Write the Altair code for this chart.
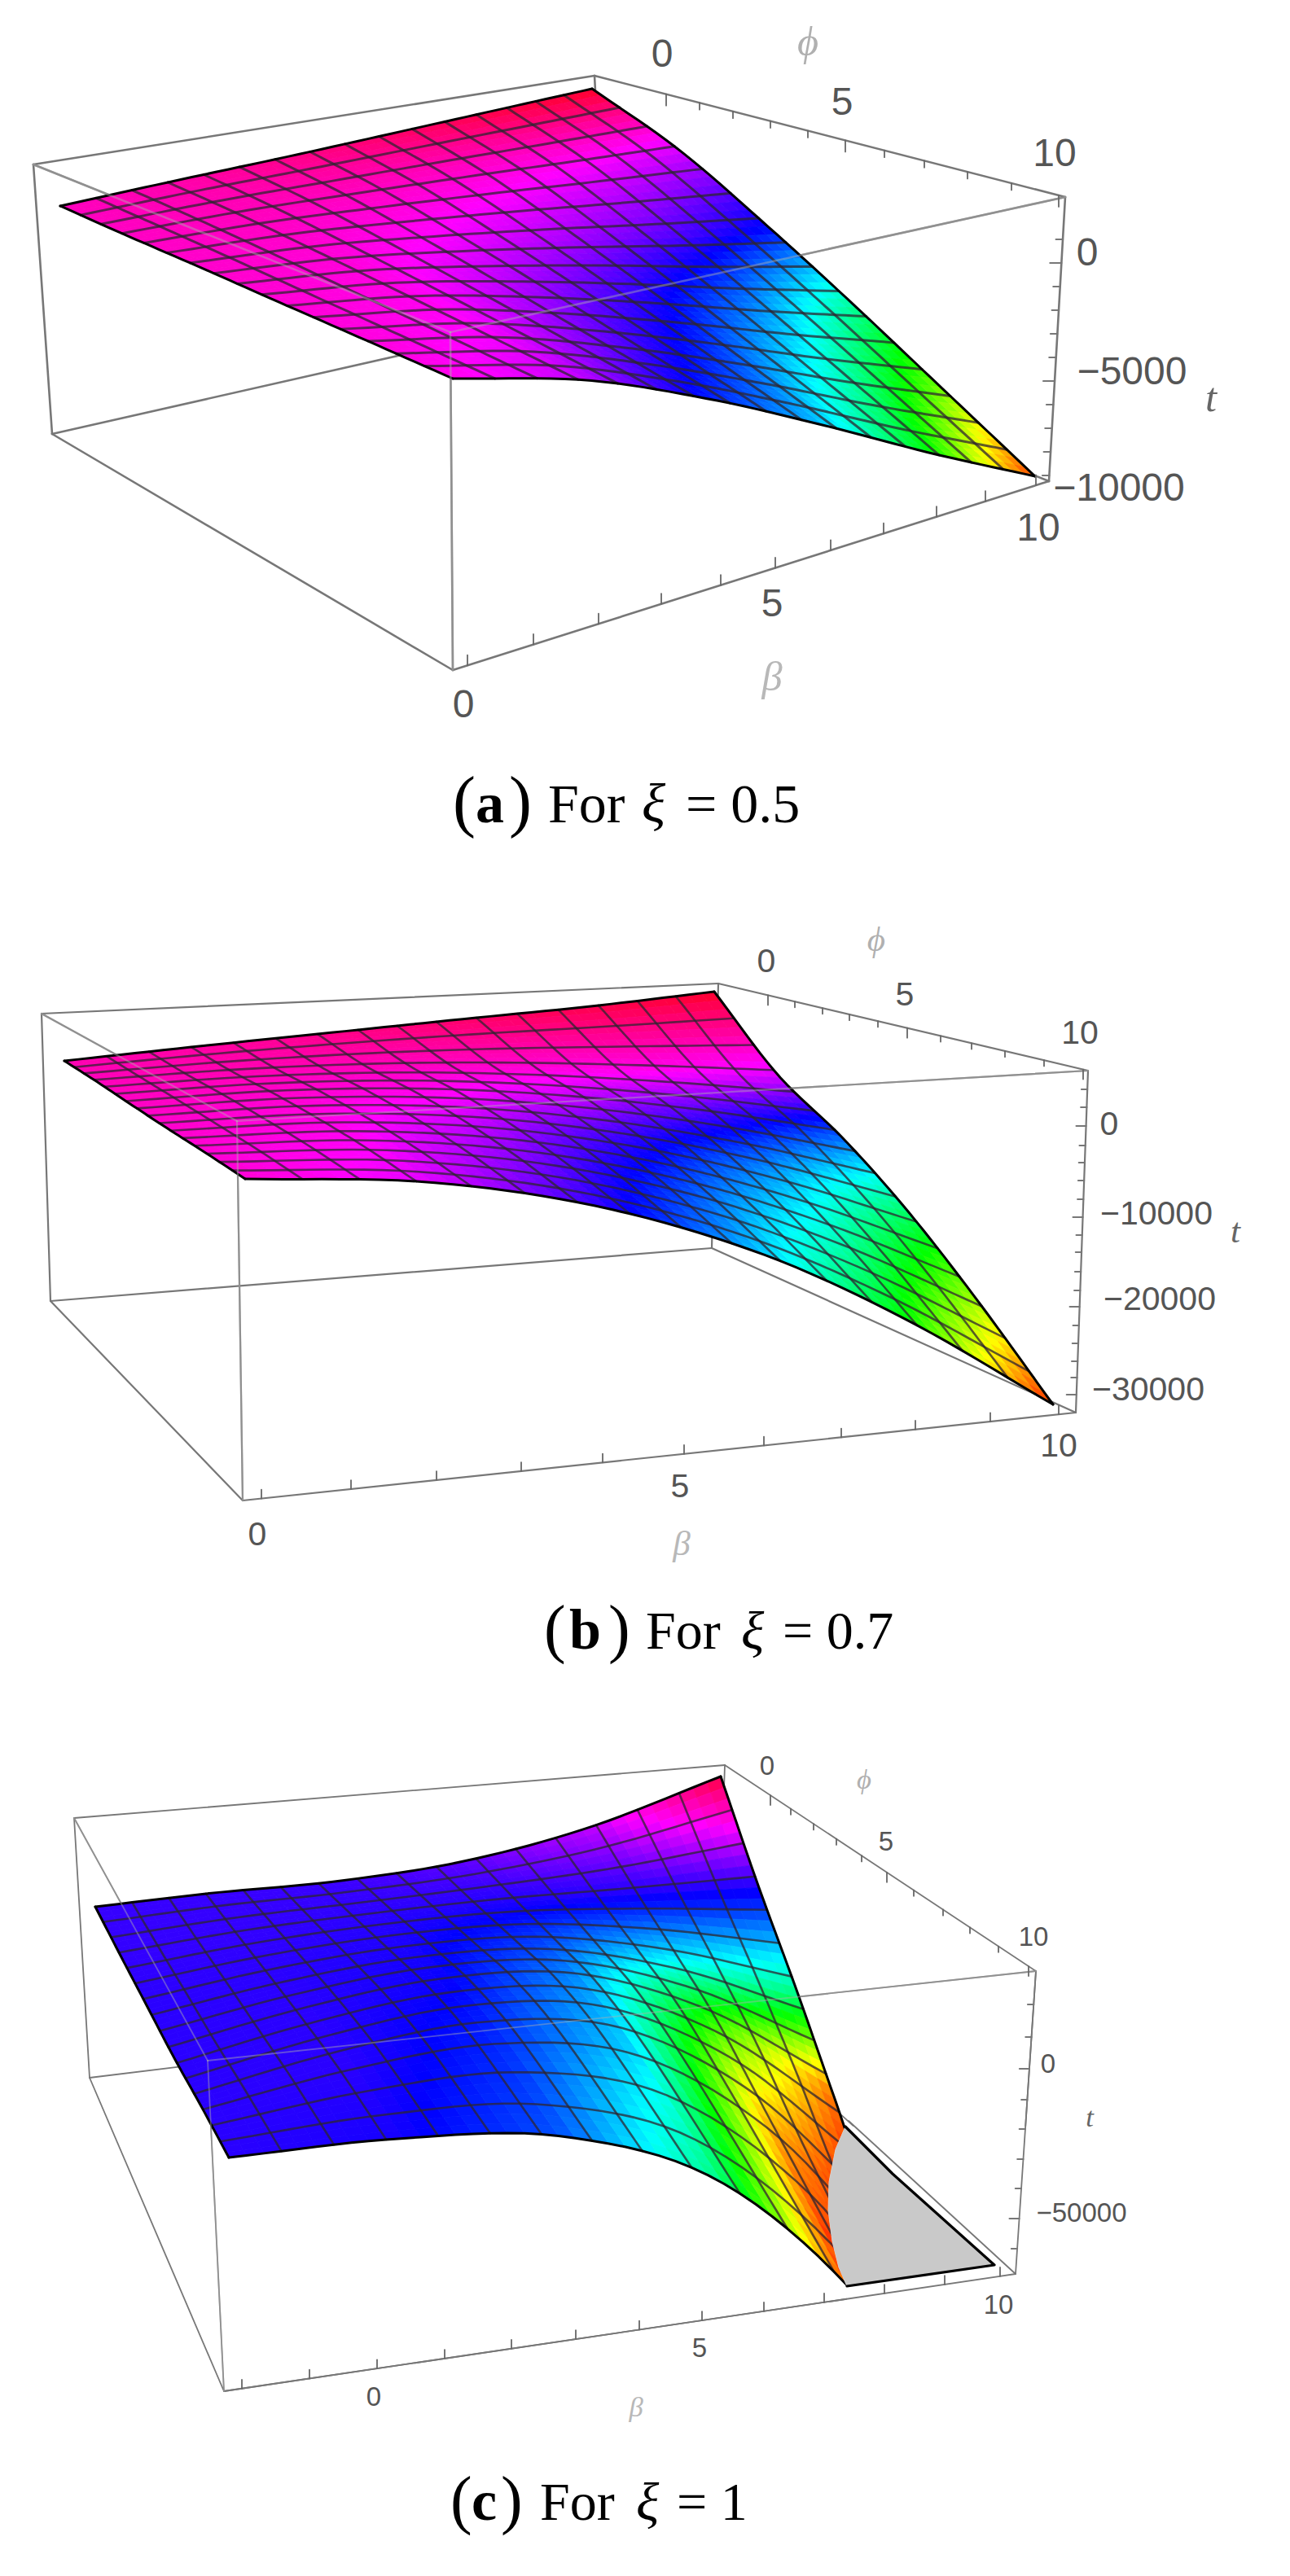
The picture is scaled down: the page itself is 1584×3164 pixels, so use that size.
import colorsys
import numpy as np
import pandas as pd
import altair as alt

# All positions are estimated from the reference picture, in its pixel coordinates.
# Surface edges and the hue table are read at control points; the mesh between those
# control points is blended from them, because only the edges can be read reliably.
NODES = [0, .2, .4, .6, .8, 1]

A_BOX = dict(TL=(41, 202), TB=(730, 93), TR=(1308, 242), TN=(553, 408),
             BL=(64, 533), BB=(745, 379), BR=(1288, 591), BN=(556, 823))
A_TOP = [(74, 253), (215, 222), (355, 192), (490, 162), (615, 134), (727, 109)]
A_NEAR = [(556, 465), (720, 467), (870, 490), (1010, 522), (1145, 557), (1271, 585)]
A_LEFT = [(74, 253), (155, 289), (245, 328), (340, 370), (445, 416), (556, 465)]
A_RIGHT = [(727, 109), (835, 185), (945, 280), (1050, 376), (1160, 480), (1271, 585)]
A_HUE = [[315, 320, 328, 336, 344, 350],
         [314, 316, 314, 308, 300, 290],
         [312, 310, 298, 282, 262, 238],
         [310, 305, 280, 250, 210, 155],
         [308, 298, 262, 222, 165, 90],
         [305, 285, 235, 195, 120, 15]]
A_PHI_TICKS = [818, 859, 900, 946, 992, 1038, 1086, 1135, 1188, 1242, 1300]
A_BETA_TICKS = [574, 655, 735, 812, 885, 952, 1020, 1085, 1150, 1210, 1272]
A_T_TICKS = [294, 323, 352, 381, 410, 439, 468, 497, 526, 555, 584]
A_LABELS = [("0", 813, 68), ("5", 1034, 127), ("10", 1295, 190), ("0", 1335, 312),
            ("\u22125000", 1390, 458), ("\u221210000", 1374, 601), ("10", 1275, 650),
            ("5", 948, 743), ("0", 569, 867)]
A_NAMES = [("\u03d5", 992, 53, "#b0b0b0"), ("\u03b2", 948, 833, "#b8b8b8"), ("t", 1487, 490, "#666666")]

B_BOX = dict(TL=(51, 1245), TB=(882, 1208), TR=(1336, 1315), TN=(291, 1377),
             BL=(62, 1598), BB=(874, 1533), BR=(1321, 1735), BN=(298, 1843))
B_TOP = [(79, 1303), (245, 1285), (410, 1268), (565, 1252), (725, 1236), (877, 1218)]
B_NEAR = [(301, 1448), (525, 1452), (735, 1482), (935, 1540), (1115, 1622), (1293, 1725)]
B_LEFT = [(79, 1303), (118, 1328), (160, 1356), (204, 1385), (251, 1415), (301, 1448)]
B_RIGHT = [(877, 1218), (955, 1320), (1035, 1398), (1115, 1488), (1200, 1597), (1293, 1725)]
B_HUE = [[318, 322, 328, 335, 342, 350],
         [316, 318, 316, 312, 305, 292],
         [314, 312, 304, 285, 255, 215],
         [312, 306, 285, 250, 205, 145],
         [310, 300, 268, 220, 165, 82],
         [310, 293, 252, 195, 120, 10]]
B_PHI_TICKS = [943, 976, 1010, 1043, 1078, 1114, 1155, 1193, 1234, 1282, 1330]
B_BETA_TICKS = [321, 431, 536, 640, 740, 840, 938, 1033, 1124, 1216, 1300]
B_T_TICKS = [1338, 1360, 1383, 1407, 1428, 1450, 1473, 1495, 1517, 1538, 1562, 1585, 1605,
             1628, 1650, 1672, 1692, 1713]
B_LABELS = [("0", 941, 1182), ("5", 1111, 1223), ("10", 1326, 1270), ("0", 1362, 1382),
            ("\u221210000", 1420, 1492), ("\u221220000", 1424, 1597), ("\u221230000", 1410, 1708),
            ("10", 1300, 1777), ("5", 835, 1827), ("0", 316, 1886)]
B_NAMES = [("\u03d5", 1076, 1155, "#b0b0b0"), ("\u03b2", 837, 1897, "#b8b8b8"), ("t", 1517, 1513, "#666666")]

C_BOX = dict(TL=(91, 2233), TB=(890, 2168), TR=(1272, 2421), TN=(255, 2531),
             BL=(110, 2552), BB=(880, 2458), BR=(1247, 2793), BN=(275, 2937))
C_TOP = [(117, 2342), (262, 2325), (410, 2311), (565, 2287), (722, 2245), (885, 2182)]
# The last nodes run on below the box floor; the floor clips them off (see C_GREY / C_MASK).
C_NEAR = [(281, 2650), (487, 2627), (690, 2624), (885, 2680), (1068, 2838), (1230, 3080)]
C_LEFT = [(117, 2342), (148, 2402), (180, 2463), (213, 2526), (247, 2587), (281, 2650)]
C_RIGHT = [(885, 2182), (930, 2313), (978, 2444), (1024, 2575), (1090, 2760), (1230, 3080)]
C_HUE = [[253, 253, 254, 262, 285, 345],
         [252, 252, 250, 248, 248, 250],
         [250, 250, 246, 225, 185, 155],
         [250, 250, 242, 205, 110, 25],
         [250, 250, 232, 190, 45, -5],
         [250, 245, 220, 150, -5, -5]]
C_PHI_TICKS = [946, 971, 999, 1027, 1058, 1089, 1122, 1158, 1191, 1226, 1263]
C_BETA_TICKS = [297, 380, 463, 546, 628, 707, 785, 862, 938, 1012, 1086, 1160, 1228]
C_T_TICKS = [2462, 2502, 2541, 2579, 2615, 2652, 2688, 2725, 2762]
C_LABELS = [("0", 942, 2170), ("5", 1088, 2263), ("10", 1269, 2380), ("0", 1287, 2536),
            ("\u221250000", 1328, 2719), ("10", 1226, 2832), ("5", 859, 2885), ("0", 459, 2945)]
C_NAMES = [("\u03d5", 1061, 2187, "#b0b0b0"), ("\u03b2", 781, 2958, "#b8b8b8"), ("t", 1338, 2602, "#666666")]
C_CLIP = [(1038, 2612), (1026, 2640), (1018, 2680), (1017, 2715), (1022, 2753), (1030, 2785), (1040, 2808)]
C_GREY = C_CLIP + [(1221, 2782), (1096, 2670)]
C_MASK = C_CLIP + [(1040, 3150), (1500, 3150), (1500, 2612)]

# x of left edge, text, style, baseline y, font size
CAPTIONS = [
    (556, "(", "normal", "normal", 1012, 84), (584, "a", "bold", "normal", 1010, 70),
    (625, ")", "normal", "normal", 1012, 84), (673, "For", "normal", "normal", 1010, 68),
    (788, "\u03be", "normal", "italic", 1010, 68), (842, "= 0.5", "normal", "normal", 1010, 68),
    (668, "(", "normal", "normal", 2027, 80), (699, "b", "bold", "normal", 2025, 70),
    (747, ")", "normal", "normal", 2027, 80), (793, "For", "normal", "normal", 2025, 66),
    (910, "\u03be", "normal", "italic", 2025, 66), (961, "= 0.7", "normal", "normal", 2025, 66),
    (553, "(", "normal", "normal", 3097, 80), (579, "c", "bold", "normal", 3095, 70),
    (615, ")", "normal", "normal", 3097, 80), (663, "For", "normal", "normal", 3095, 66),
    (781, "\u03be", "normal", "italic", 3095, 66), (831, "= 1", "normal", "normal", 3095, 66),
]

PANELS = [
    dict(box=A_BOX, top=A_TOP, near=A_NEAR, left=A_LEFT, right=A_RIGHT, hue=A_HUE, phi=A_PHI_TICKS,
         beta=A_BETA_TICKS, tt=A_T_TICKS, labels=A_LABELS, names=A_NAMES, fs=48, box_w=2.6, mesh_w=3.0,
         major=[0, 5, 10], tick=14, tmajor=[1, 6]),
    dict(box=B_BOX, top=B_TOP, near=B_NEAR, left=B_LEFT, right=B_RIGHT, hue=B_HUE, phi=B_PHI_TICKS,
         beta=B_BETA_TICKS, tt=B_T_TICKS, labels=B_LABELS, names=B_NAMES, fs=41, box_w=2.2, mesh_w=2.6,
         major=[0, 5, 10], tick=12, tmajor=[2, 7, 12, 17]),
    dict(box=C_BOX, top=C_TOP, near=C_NEAR, left=C_LEFT, right=C_RIGHT, hue=C_HUE, phi=C_PHI_TICKS,
         beta=C_BETA_TICKS, tt=C_T_TICKS, labels=C_LABELS, names=C_NAMES, fs=33, box_w=1.8, mesh_w=2.6,
         major=[0, 5, 10], tick=12, tmajor=[2, 7]),
]
CELLS = 16
SUB = 3


def edge(points, s):
    """Cubic Hermite curve through the read control points."""
    pts = np.array(points, float)
    nodes = np.array(NODES, float)
    tang = np.gradient(pts, nodes, axis=0)
    i = min(np.searchsorted(nodes, s, side="right") - 1, len(nodes) - 2)
    h = nodes[i + 1] - nodes[i]
    t = (s - nodes[i]) / h
    return ((2 * t**3 - 3 * t**2 + 1) * pts[i] + (t**3 - 2 * t**2 + t) * h * tang[i]
            + (-2 * t**3 + 3 * t**2) * pts[i + 1] + (t**3 - t**2) * h * tang[i + 1])


def patch(p, u, v):
    c0, c1 = edge(p["top"], u), edge(p["near"], u)
    d0, d1 = edge(p["left"], v), edge(p["right"], v)
    p00, p10 = np.array(p["top"][0], float), np.array(p["top"][-1], float)
    p01, p11 = np.array(p["near"][0], float), np.array(p["near"][-1], float)
    bl = (1 - u) * (1 - v) * p00 + u * (1 - v) * p10 + (1 - u) * v * p01 + u * v * p11
    return (1 - v) * c0 + v * c1 + (1 - u) * d0 + u * d1 - bl


def hue_at(p, u, v):
    t = np.array(p["hue"], float)
    row = np.array([np.interp(u, NODES, t[i]) for i in range(6)])
    return float(np.interp(v, NODES, row))


def rgb(h):
    r, g, b = colorsys.hsv_to_rgb((h % 360) / 360, 1, 1)
    return "#%02x%02x%02x" % (int(r * 255), int(g * 255), int(b * 255))


def polygon(points, **props):
    ring = [[float(a), float(b)] for a, b in points]
    ring.append(ring[0])
    return dict(type="Feature", geometry=dict(type="Polygon", coordinates=[ring]), properties=props)


features, rows_back, rows_mesh, rows_edge, rows_front, rows_tick, rows_label, rows_name = [], [], [], [], [], [], [], []
lid = 0


def add(rows, pts, c, w, op=1.0):
    global lid
    lid += 1
    for i, (x, y) in enumerate(pts):
        rows.append(dict(id=lid, o=i, x=float(x), y=float(y), c=c, w=w, op=op))


for p in PANELS:
    b = p["box"]
    for a, z in [("TL", "TB"), ("TB", "TR"), ("TL", "BL"), ("BL", "BB"), ("BB", "BR"), ("TB", "BB"),
                 ("TL", "TN"), ("TN", "TR"), ("TN", "BN"), ("BL", "BN"), ("BN", "BR"), ("TR", "BR")]:
        add(rows_back, [b[a], b[z]], "#777777", p["box_w"])
    for a, z in [("TL", "TN"), ("TN", "TR"), ("TN", "BN")]:
        add(rows_front, [b[a], b[z]], "#b0b0b0", p["box_w"], 0.45)

    n = CELLS * SUB
    for i in range(n):
        for j in range(n):
            u0, u1, v0, v1 = i / n, (i + 1) / n, j / n, (j + 1) / n
            q = [patch(p, u0, v0), patch(p, u1, v0), patch(p, u1, v1), patch(p, u0, v1)]
            features.append(polygon(q, c=rgb(hue_at(p, (u0 + u1) / 2, (v0 + v1) / 2))))
    fine = np.linspace(0, 1, 49)
    for k in range(1, CELLS):
        s = k / CELLS
        add(rows_mesh, [patch(p, s, t) for t in fine], "#2e2430", p["mesh_w"], 0.75)
        add(rows_mesh, [patch(p, t, s) for t in fine], "#2e2430", p["mesh_w"], 0.75)
    add(rows_edge, [patch(p, t, 0) for t in fine], "#000000", 3)
    add(rows_edge, [patch(p, t, 1) for t in fine], "#000000", 3)
    add(rows_edge, [patch(p, 0, t) for t in fine], "#000000", 3)
    add(rows_edge, [patch(p, 1, t) for t in fine], "#000000", 3)

    (x0, y0), (x1, y1) = b["TB"], b["TR"]
    for k, x in enumerate(p["phi"]):
        y = y0 + (x - x0) * (y1 - y0) / (x1 - x0)
        add(rows_tick, [(x, y), (x, y + (p["tick"] if k in p["major"] else p["tick"] * 0.6))], "#666666", 1.8)
    (x0, y0), (x1, y1) = b["BN"], b["BR"]
    for k, x in enumerate(p["beta"]):
        y = y0 + (x - x0) * (y1 - y0) / (x1 - x0)
        add(rows_tick, [(x, y), (x, y - p["tick"] * 0.9)], "#666666", 1.8)
    (x0, y0), (x1, y1) = b["TR"], b["BR"]
    for k, y in enumerate(p["tt"]):
        x = x0 + (y - y0) * (x1 - x0) / (y1 - y0)
        add(rows_tick, [(x, y), (x - (p["tick"] if k in p["tmajor"] else p["tick"] * 0.6), y)], "#777777", 2.2)

    for text, x, y in p["labels"]:
        rows_label.append(dict(x=x, y=y, text=text, fs=p["fs"]))
    for text, x, y, c in p["names"]:
        rows_name.append(dict(x=x, y=y, text=text, fs=p["fs"] * 1.05, c=c))

X = alt.X("x:Q", axis=None, scale=alt.Scale(domain=[8, 1576], nice=False, zero=False))
Y = alt.Y("y:Q", axis=None, scale=alt.Scale(domain=[3156, 8], nice=False, zero=False))


def lines(rows):
    return alt.Chart(pd.DataFrame(rows)).mark_line(strokeCap="round", strokeJoin="round").encode(
        x=X, y=Y, detail="id:N", order="o:Q",
        color=alt.Color("c:N", scale=None),
        strokeWidth=alt.StrokeWidth("w:Q", scale=None),
        opacity=alt.Opacity("op:Q", scale=None))


PROJ = dict(type="identity", scale=1, translate=[-8, -8])
mask = alt.Chart(alt.Data(values=[polygon(C_MASK, c="#ffffff")])).mark_geoshape(
    fill="#ffffff", stroke="#ffffff", strokeWidth=0.5).project(**PROJ)
grey = alt.Chart(alt.Data(values=[polygon(C_GREY, c="#c9c9c9")])).mark_geoshape(
    fill="#c9c9c9", stroke="#c9c9c9", strokeWidth=0.5).project(**PROJ)
surface = alt.Chart(alt.Data(values=features)).mark_geoshape(strokeWidth=0.8).encode(
    fill=alt.Fill("properties.c:N", scale=None),
    stroke=alt.Stroke("properties.c:N", scale=None)).project(**PROJ)

rows_over_mask = []
add(rows_over_mask, [C_BOX["TR"], C_BOX["BR"]], "#777777", 1.8)
add(rows_over_mask, [C_BOX["BN"], C_BOX["BR"]], "#777777", 1.8)
add(rows_over_mask, [(1042, 2605), C_BOX["BR"]], "#777777", 1.8)
add(rows_over_mask, [C_CLIP[0], C_GREY[-1], C_GREY[-2], C_CLIP[-1]], "#000000", 3.2)

tick_text = alt.Chart(pd.DataFrame(rows_label)).mark_text(
    font="Liberation Sans", color="#555555", align="center", baseline="middle").encode(
    x=X, y=Y, text="text:N", size=alt.Size("fs:Q", scale=None))
name_text = alt.Chart(pd.DataFrame(rows_name)).mark_text(
    font="Liberation Serif", fontStyle="italic", align="center", baseline="middle").encode(
    x=X, y=Y, text="text:N", size=alt.Size("fs:Q", scale=None), color=alt.Color("c:N", scale=None))
cap_df = pd.DataFrame(CAPTIONS, columns=["x", "text", "w", "st", "y", "fs"])
caps = [alt.Chart(cap_df[(cap_df.w == w) & (cap_df.st == st)]).mark_text(
    font="Liberation Serif", color="#000000", align="left", baseline="alphabetic",
    fontWeight=w, fontStyle=st).encode(x=X, y=Y, text="text:N", size=alt.Size("fs:Q", scale=None))
    for w, st in [("normal", "normal"), ("bold", "normal"), ("normal", "italic")]]

chart = alt.layer(
    lines(rows_back), surface, lines(rows_mesh), lines(rows_edge), mask, grey, lines(rows_over_mask),
    lines(rows_front), lines(rows_tick), tick_text, name_text, *caps
).resolve_scale(color="independent", size="independent").properties(
    width=1568, height=3148, padding=0,
    autosize=alt.AutoSizeParams(type="none"), background="#ffffff"
).configure_view(stroke=None)

chart.save("out.html", embed_options={"renderer": "svg", "actions": False})
